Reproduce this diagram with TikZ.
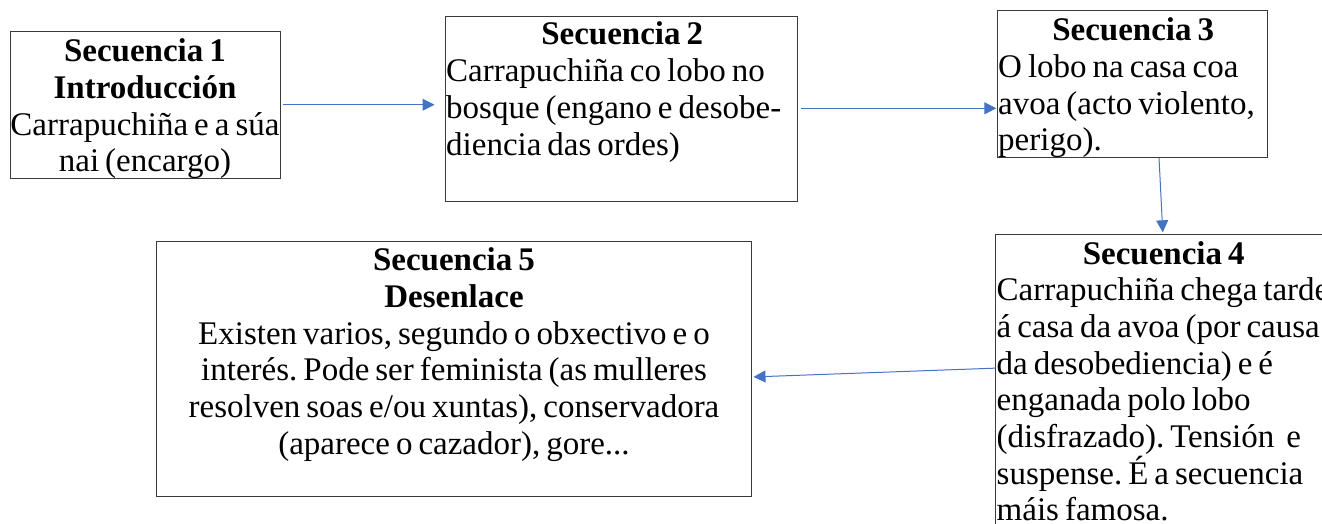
\documentclass[tikz,border=0pt]{standalone}
\usepackage{fontspec}
\setmainfont{Liberation Serif}
\usetikzlibrary{arrows.meta}
\definecolor{arrowblue}{HTML}{4472C4}
\definecolor{boxgray}{HTML}{3A3A3A}
\newcommand{\ctitle}[1]{\hskip0pt plus1filll\textbf{#1}\hskip0pt plus1filll\null}
\newcommand{\tsp}{\spaceskip=6pt\relax\xspaceskip=6pt\relax}
\begin{document}
\begin{tikzpicture}[x=1pt,y=-1pt,
  box/.style={draw=boxgray, line width=1pt, inner sep=0pt, minimum width=#1},
  txt/.style={inner sep=0pt, font=\fontsize{33}{36.7}\selectfont, text=black},
  arr/.style={draw=arrowblue, line width=1pt, -{Triangle[length=12pt,width=12pt]}}]
\useasboundingbox (0,0) rectangle (1322,524);
\clip (0,0) rectangle (1322,524);
% boxes
\node[box=270pt, minimum height=146.5pt] (b1) at (145,104.75) {};
\node[box=352pt, minimum height=184pt] (b2) at (621,109) {};
\node[box=270pt, minimum height=146.6pt] (b3) at (1132.3,84) {};
\node[box=334.3pt, minimum height=325.7pt] (b4) at (1162.85,397.15) {};
\node[box=594.4pt, minimum height=255pt] (b5) at (453.8,368.5) {};
% texts
\node[txt, text width=320pt, align=center, anchor=base] (t1) at (145,61.7)
  {\tsp\textbf{Secuencia 1}\\\textbf{Introducción}\\Carrapuchiña e a súa\\nai (encargo)};
\node[txt, text width=352pt, align=left, anchor=base west] (t2) at (446,45)
  {\tsp\ctitle{Secuencia 2}\\Carrapuchiña co lobo no\\bosque (engano e desobe-\\diencia das ordes)};
\node[txt, text width=270pt, align=left, anchor=base west] (t3) at (998,40.7)
  {\tsp\ctitle{Secuencia 3}\\O lobo na casa coa\\avoa (acto violento,\\perigo).};
\node[txt, text width=334pt, align=left, anchor=base west] (t4) at (996.5,264)
  {\tsp\ctitle{Secuencia 4}\\Carrapuchiña chega tarde\\á casa da avoa (por causa\\da desobediencia) e é\\enganada polo lobo\\(disfrazado). Tensión\ \ e\\suspense. É a secuencia\\máis famosa.};
\node[txt, text width=640pt, align=center, anchor=base] (t5) at (454,270.7)
  {\tsp\textbf{Secuencia 5}\\\textbf{Desenlace}\\Existen varios, segundo o obxectivo e o\\interés. Pode ser feminista (as mulleres\\resolven soas e/ou xuntas), conservadora\\(aparece o cazador), gore...};
% connectors
\draw[arr, shorten <=2pt, shorten >=10pt] (b1.east) -- (b1.east -| b2.west);
\draw[arr, shorten <=3.5pt, shorten >=0.5pt] ([yshift=0.7pt]b2.east) -- ([yshift=0.7pt]b2.east -| b3.west);
\draw[arr, shorten >=1.5pt] ([xshift=26.7pt]b3.south) -- (b4.north);
\draw[arr, shorten >=2pt] ([yshift=29pt]b4.west) -- ([yshift=-8.5pt]b5.east);
\end{tikzpicture}
\end{document}
